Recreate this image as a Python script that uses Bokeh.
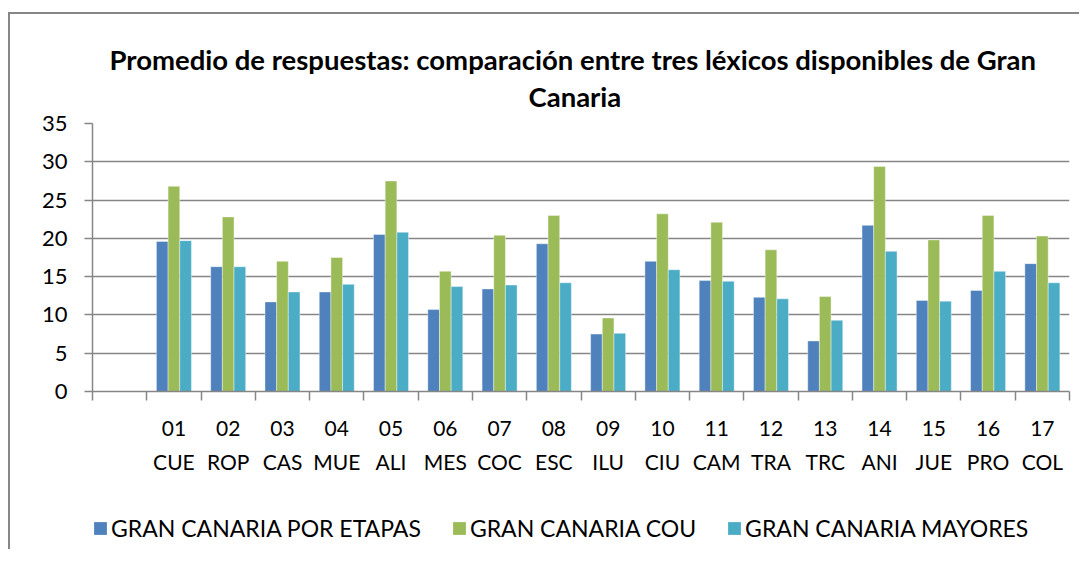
from bokeh.plotting import figure
from bokeh.layouts import column
from bokeh.models import (FactorRange, Range1d, LinearAxis, CategoricalAxis, FixedTicker,
                          ColumnDataSource, Title, SingleIntervalTicker, Grid)
from bokeh.transform import dodge
from bokeh.embed import file_html
from bokeh.resources import INLINE

# ---- data ----
codes = ["01", "02", "03", "04", "05", "06", "07", "08", "09", "10",
         "11", "12", "13", "14", "15", "16", "17"]
names = ["CUE", "ROP", "CAS", "MUE", "ALI", "MES", "COC", "ESC", "ILU", "CIU",
         "CAM", "TRA", "TRC", "ANI", "JUE", "PRO", "COL"]
etapas = [19.6, 16.3, 11.7, 13.0, 20.5, 10.7, 13.4, 19.3, 7.5, 17.0,
          14.5, 12.3, 6.6, 21.7, 11.9, 13.2, 16.7]
cou = [26.8, 22.8, 17.0, 17.5, 27.5, 15.7, 20.4, 23.0, 9.6, 23.2,
       22.1, 18.5, 12.4, 29.4, 19.8, 23.0, 20.3]
mayores = [19.7, 16.3, 13.0, 14.0, 20.8, 13.7, 13.9, 14.2, 7.6, 15.9,
           14.4, 12.1, 9.3, 18.3, 11.8, 15.7, 14.2]
series_names = ["GRAN CANARIA POR ETAPAS", "GRAN CANARIA COU", "GRAN CANARIA MAYORES"]
series_colors = ["#4F81BD", "#9BBB59", "#4BACC6"]
title_lines = ["Promedio de respuestas: comparación entre tres léxicos disponibles de Gran",
               "Canaria"]

FONT = "Lato"
GRID = "#868686"
BORDER = "2px solid #868686"

factors = [" "] + codes  # first category slot is empty in the original

p = figure(x_range=FactorRange(*factors), y_range=Range1d(0, 35),
           width=1071, height=477, output_backend="svg", toolbar_location=None,
           x_axis_location=None, y_axis_location=None,
           min_border_left=82, min_border_right=12, min_border_top=109,
           min_border_bottom=100, title=None)
p.margin = (12, 0, 0, 8)
p.styles = {"border-top": BORDER, "border-left": BORDER}
p.outline_line_color = None
p.background_fill_color = "white"
p.border_fill_color = "white"

# titles (nearest to frame first)
t2 = Title(text=title_lines[1], align="left", text_font=FONT, text_font_size="27.5px",
           text_font_style="bold", text_color="black", standoff=22, offset=436)
t1 = Title(text=title_lines[0], align="left", text_font=FONT, text_font_size="27.5px",
           text_font_style="bold", text_color="black", standoff=-18, offset=17)
p.add_layout(t2, "above")
p.add_layout(t1, "above")

# y axis
yax = LinearAxis(ticker=SingleIntervalTicker(interval=5))
yax.axis_line_color = GRID
yax.axis_line_width = 1.5
yax.major_tick_line_color = GRID
yax.major_tick_line_width = 1.5
yax.major_tick_out = 8
yax.major_tick_in = 0
yax.minor_tick_line_color = None
yax.major_label_text_font = FONT
yax.major_label_text_font_size = "22px"
yax.major_label_text_color = "black"
yax.major_label_standoff = 17
p.add_layout(yax, "left")

p.ygrid.grid_line_color = GRID
p.ygrid.grid_line_width = 1.5
p.ygrid.ticker = SingleIntervalTicker(interval=5)
p.xgrid.grid_line_color = None

# category-boundary ticks (synthetic coordinates of the factor range)
tax = LinearAxis(ticker=FixedTicker(ticks=list(range(len(factors) + 1))))
tax.axis_line_color = GRID
tax.axis_line_width = 1.5
tax.major_tick_line_color = GRID
tax.major_tick_line_width = 1.5
tax.major_tick_out = 9
tax.major_tick_in = 0
tax.minor_tick_line_color = None
tax.major_label_overrides = {i: "" for i in range(len(factors) + 1)}
tax.major_label_text_font_size = "1px"
tax.major_label_standoff = 0
p.add_layout(tax, "below")

# category labels, two lines: codes, then names (at category centres)
cax1 = CategoricalAxis()
centres = [factors.index(c) + 0.5 for c in codes]
cax2 = LinearAxis(ticker=FixedTicker(ticks=centres))
cax2.major_label_overrides = dict(zip(centres, names))
for ax, so in ((cax1, 8), (cax2, 0)):
    ax.axis_line_color = None
    ax.major_tick_line_color = None
    ax.minor_tick_line_color = None
    ax.major_label_text_font = FONT
    ax.major_label_text_font_size = "21px"
    ax.major_label_text_color = "black"
    ax.major_label_standoff = so
    p.add_layout(ax, "below")

src = ColumnDataSource(dict(x=codes, etapas=etapas, cou=cou, mayores=mayores))
bw = 0.215
for off, col, color in zip((-bw, 0.0, bw), ("etapas", "cou", "mayores"), series_colors):
    p.vbar(x=dodge("x", off, range=p.x_range), top=col, width=bw, source=src,
           fill_color=color, line_color="white", line_alpha=0.5, line_width=0.8)

# legend strip below the chart (zero-size proxy glyphs carry the legend swatches)
pl = figure(width=1071, height=60, output_backend="svg", toolbar_location=None,
            x_axis_location=None, y_axis_location=None,
            min_border_left=0, min_border_right=0, min_border_top=0, min_border_bottom=0)
pl.margin = (0, 0, 0, 8)
pl.styles = {"border-left": BORDER}
pl.outline_line_color = None
pl.background_fill_color = "white"
pl.border_fill_color = "white"
for r in pl.center:
    if isinstance(r, Grid):
        r.visible = False
for color, label in zip(series_colors, series_names):
    pl.vbar(x=[0], top=[0], bottom=0, width=0, fill_color=color, line_color=None,
            legend_label=label)

lg = pl.legend[0]
lg.orientation = "horizontal"
lg.location = (0, 7)
lg.border_line_color = None
lg.background_fill_alpha = 0
lg.padding = 0
lg.margin = 0
lg.spacing = 30
lg.glyph_width = 16
lg.glyph_height = 16
lg.label_height = 28
lg.label_standoff = 3
lg.label_text_font = FONT
lg.label_text_font_size = "23px"
lg.label_text_color = "black"

layout = column(p, pl, spacing=0)
open("out.html", "w").write(file_html(layout, INLINE))
